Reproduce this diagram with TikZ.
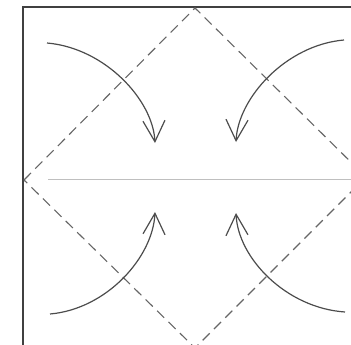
\documentclass[tikz,border=0pt]{standalone}
\usepackage{tikz}
\usetikzlibrary{arrows.meta}
\begin{document}
\begin{tikzpicture}[x=1pt,y=-1pt,>={Straight Barb[length=21pt,width=22pt]},
  fold/.style={dashed,dash pattern=on 10pt off 6pt,line width=1.1pt,black!60},
  turn/.style={->,line width=1.2pt,black!70}]
\useasboundingbox(0,0)rectangle(351,345);
\clip(0,0)rectangle(351,345);
\coordinate(top)at(195,8);
\coordinate(left)at(24,180);
\coordinate(bottom)at(195,348);
\coordinate(right)at(366,177);
\draw[line width=1.3pt,black!75](23,350)--(23,7)--(351,7);
\draw[line width=0.8pt,black!25](48,179)--(351,179);
\draw[fold](left)--(top)--(right)--(bottom)--cycle;
\coordinate(tlA)at(47,43);\coordinate(tlB)at(155,143);
\coordinate(trA)at(344,40);\coordinate(trB)at(236,142);
\coordinate(blA)at(50,314);\coordinate(blB)at(155,212);
\coordinate(brA)at(345,312);\coordinate(brB)at(236,213);
\draw[turn](tlA)..controls(105,48)and(153,100)..(tlB);
\draw[turn](trA)..controls(286,45)and(238,98)..(trB);
\draw[turn](blA)..controls(107,309)and(153,257)..(blB);
\draw[turn](brA)..controls(286,308)and(238,258)..(brB);
\end{tikzpicture}
\end{document}
